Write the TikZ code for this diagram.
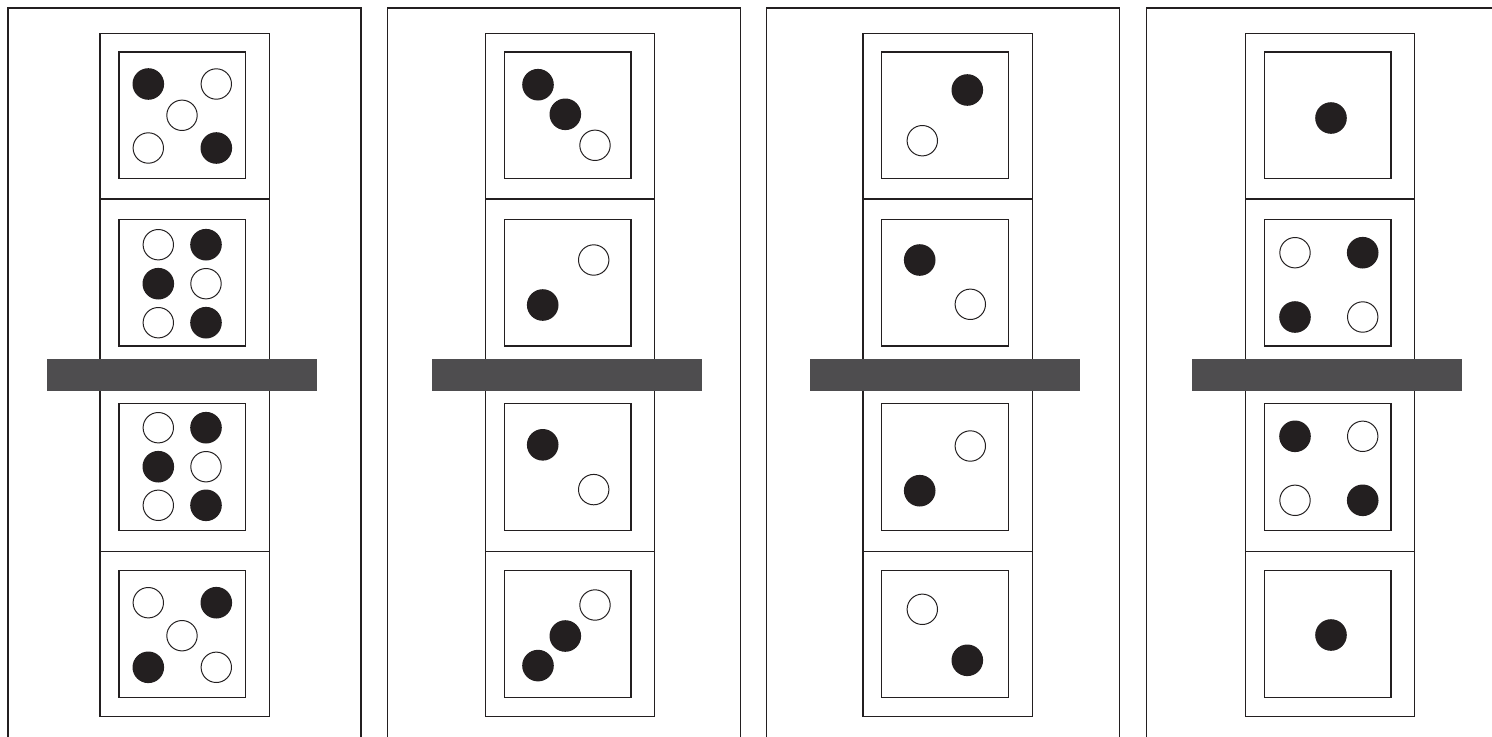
\documentclass[tikz,border=0pt]{standalone}
\definecolor{inkblack}{RGB}{35,31,32}
\definecolor{bargray}{RGB}{78,77,79}
\tikzset{
  frame/.style={draw=inkblack, line width=1.8pt},
  pipfull/.style={fill=inkblack},
  pipempty/.style={draw=inkblack, fill=white, line width=1.4pt},
  barbox/.style={fill=bargray}
}
\begin{document}
\begin{tikzpicture}[x=0.5mm,y=-0.5mm]
\useasboundingbox (0,0) rectangle (1492,736);
\fill[white] (0,0) rectangle (1492,736);
\clip (0,0) rectangle (1492,736);

\foreach \l in {8,387.3,766.7,1146.3}
{
     \draw[frame] (\l,760) -- (\l,8) -- (\l+353,8) -- (\l+353,760);
}

\foreach \c/\s in {100/119,485.3/504.3,863/881.7,1245.3/1264.3}
{
     \draw[frame] (\c,33.7) rectangle (\c+169.2,716.7);
     \foreach \h in {199,375,551.3}
          \draw[frame] (\c,\h) -- (\c+169.2,\h);
     \foreach \t in {52,219.3,403.7,570.5}
          \draw[frame] (\s,\t) rectangle (\s+126.7,\t+126.7);
}

\foreach \b in {47,432,810,1192}
{
     \fill[barbox] (\b,359.3) rectangle (\b+270,391.3);
}

% black pips
\foreach \x/\y in {148.3/84, 216.3/148,
                   206/244.7, 158.3/283.7, 206/322.7,
                   206/427.7, 158.3/466.7, 206/505.3,
                   216.3/602.7, 148.3/667.3,
                   538/84.7, 565.3/114.3, 542.7/305, 542.7/444.8, 565.3/636, 538/665.6,
                   967.3/90, 919.7/260, 919.7/490.7, 967.3/660.3,
                   1331/118, 1362.7/252.7, 1295/317, 1295/436.3, 1362.7/500.3, 1331/635}
{
     \fill[pipfull] (\x,\y) circle (15.8);
}

% white pips
\foreach \x/\y in {216.3/84, 182/115.3, 148.3/148,
                   158.3/244.7, 206/283.7, 158.3/322.7,
                   158.3/427.7, 206/466.7, 158.3/505.3,
                   148.3/602.7, 182/635.7, 216.3/667.3,
                   595/145.3, 593.7/260, 593.7/489.6, 595/605,
                   922.3/140.7, 970.3/304.3, 970.3/446, 922.3/609.3,
                   1295/252.7, 1362.7/317, 1362.7/436.3, 1295/500.3}
{
     \draw[pipempty] (\x,\y) circle (15.2);
}

\end{tikzpicture}
\end{document}
